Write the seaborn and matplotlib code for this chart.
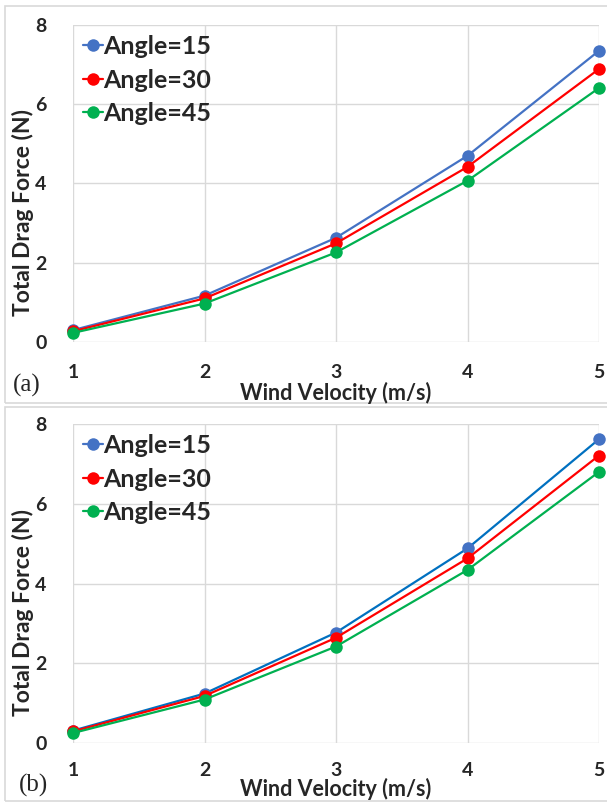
import numpy as np
import pandas as pd
import seaborn as sns
import matplotlib.pyplot as plt
from matplotlib.patches import Rectangle

# Wind velocities (m/s)
velocity = [1, 2, 3, 4, 5]
angles = ["Angle=15", "Angle=30", "Angle=45"]

# Panel (a): total drag force (N)
drag_a_15 = [0.30, 1.17, 2.63, 4.70, 7.35]
drag_a_30 = [0.27, 1.10, 2.49, 4.42, 6.89]
drag_a_45 = [0.23, 0.97, 2.26, 4.07, 6.41]

# Panel (b): total drag force (N)
drag_b_15 = [0.31, 1.24, 2.77, 4.88, 7.62]
drag_b_30 = [0.29, 1.18, 2.64, 4.63, 7.21]
drag_b_45 = [0.25, 1.09, 2.42, 4.34, 6.80]

marker_colors = ["#4472C4", "#FF0000", "#00B050"]

sns.set_theme(style="white")
plt.rcParams["font.family"] = ["Lato", "DejaVu Sans"]


def make_frame(series):
    rows = []
    for name, vals in zip(angles, series):
        for v, f in zip(velocity, vals):
            rows.append({"Wind Velocity (m/s)": v, "Total Drag Force (N)": f, "Angle": name})
    return pd.DataFrame(rows)


fig = plt.figure(figsize=(6.07, 8.05), dpi=100)
W, H = 607, 805

# light grey frames around each panel
for top, bottom in [(6, 403), (407, 801)]:
    fig.patches.append(Rectangle((5 / W, 1 - bottom / H), (W + 10) / W, (bottom - top) / H,
                                 transform=fig.transFigure, fill=False,
                                 edgecolor="#D9D9D9", linewidth=1.2, zorder=0))

panels = [
    dict(data=[drag_a_15, drag_a_30, drag_a_45], top=25, bottom=342, label="(a)",
         label_xy=(27, 385), tick_pad=16, xlab_y=393, ylab_y=212,
         line_colors=["#4472C4", "#FF0000", "#00B050"]),
    dict(data=[drag_b_15, drag_b_30, drag_b_45], top=424, bottom=743, label="(b)",
         label_xy=(33, 785), tick_pad=14, xlab_y=789, ylab_y=613,
         line_colors=["#0070C0", "#FF0000", "#00B050"]),
]

left, right = 73, 599
for p in panels:
    ax = fig.add_axes([left / W, 1 - p["bottom"] / H, (right - left) / W,
                       (p["bottom"] - p["top"]) / H])
    df = make_frame(p["data"])
    sns.lineplot(data=df, x="Wind Velocity (m/s)", y="Total Drag Force (N)", hue="Angle",
                 palette=marker_colors, marker="o", markersize=9, markeredgewidth=0,
                 linewidth=1.6, ax=ax)
    for line, lc, mc in zip(ax.get_lines(), p["line_colors"], marker_colors):
        line.set_markerfacecolor(mc)
        line.set_markeredgecolor(mc)
        line.set_color(lc)
        line.set_clip_on(False)

    ax.set_xlim(1, 5)
    ax.set_ylim(0, 8)
    ax.set_xticks(velocity)
    ax.set_yticks([0, 2, 4, 6, 8])
    ax.grid(True, color="#D9D9D9", linewidth=1.0)
    for s in ax.spines.values():
        s.set_visible(False)
    ax.tick_params(axis="both", length=0, labelsize=14)
    for t in ax.get_xticklabels() + ax.get_yticklabels():
        t.set_fontweight("bold")
    ax.tick_params(axis="y", pad=19)
    ax.tick_params(axis="x", pad=p["tick_pad"])
    ax.set_xlabel("")
    ax.set_ylabel("")

    fig.text(336 / W, 1 - p["xlab_y"] / H, "Wind Velocity (m/s)", ha="center", va="center",
             fontsize=15.5, fontweight="bold")
    fig.text(23 / W, 1 - p["ylab_y"] / H, "Total Drag Force (N)", ha="center", va="center",
             rotation=90, fontsize=16.5, fontweight="bold")
    fig.text(p["label_xy"][0] / W, 1 - p["label_xy"][1] / H, p["label"], ha="center",
             va="center", fontsize=18, family=["Liberation Serif", "DejaVu Serif"])

    handles, labels = ax.get_legend_handles_labels()
    leg = ax.legend(handles, labels, loc="upper left", frameon=False,
                    bbox_to_anchor=(0.0, 1.0), borderaxespad=0.0,
                    handlelength=0.8, handletextpad=0.0, labelspacing=0.42,
                    prop={"family": ["Lato", "DejaVu Sans"], "weight": "bold", "size": 18})
    for h, mc in zip(leg.legend_handles, marker_colors):
        h.set_color(mc)
        h.set_markerfacecolor(mc)
        h.set_markeredgecolor(mc)

fig.savefig("out.png", dpi=100)
